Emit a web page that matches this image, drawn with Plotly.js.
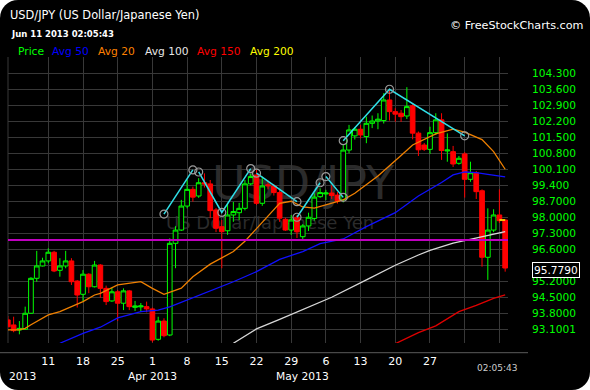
<!DOCTYPE html>
<html><head><meta charset="utf-8">
<script src="https://cdn.plot.ly/plotly-3.0.1.min.js"></script>
<style>
html,body{margin:0;padding:0;background:#fff;}
#wrap{position:relative;width:590px;height:390px;background:#000;border-radius:18px;overflow:hidden;}
.wm{position:absolute;color:#2b2b2b;font-family:"DejaVu Sans";white-space:nowrap;line-height:1;}
#chart{position:absolute;left:0;top:0;width:590px;height:390px;}
</style></head><body>
<div id="wrap">
<div class="wm" style="left:212px;top:160px;font-size:46px;">USD/JPY</div>
<div class="wm" style="left:166px;top:214px;font-size:18px;">US Dollar/Japanese Yen</div>
<div id="chart"></div>
</div>
<script>
// ---- trading days (Sun..Fri sessions) ----
const dates = [
'2013-03-03','2013-03-04','2013-03-05','2013-03-06','2013-03-07','2013-03-08',
'2013-03-10','2013-03-11','2013-03-12','2013-03-13','2013-03-14','2013-03-15',
'2013-03-17','2013-03-18','2013-03-19','2013-03-20','2013-03-21','2013-03-22',
'2013-03-24','2013-03-25','2013-03-26','2013-03-27','2013-03-28','2013-03-29',
'2013-03-31','2013-04-01','2013-04-02','2013-04-03','2013-04-04','2013-04-05',
'2013-04-07','2013-04-08','2013-04-09','2013-04-10','2013-04-11','2013-04-12',
'2013-04-14','2013-04-15','2013-04-16','2013-04-17','2013-04-18','2013-04-19',
'2013-04-21','2013-04-22','2013-04-23','2013-04-24','2013-04-25','2013-04-26',
'2013-04-28','2013-04-29','2013-04-30','2013-05-01','2013-05-02','2013-05-03',
'2013-05-05','2013-05-06','2013-05-07','2013-05-08','2013-05-09','2013-05-10',
'2013-05-12','2013-05-13','2013-05-14','2013-05-15','2013-05-16','2013-05-17',
'2013-05-19','2013-05-20','2013-05-21','2013-05-22','2013-05-23','2013-05-24',
'2013-05-26','2013-05-27','2013-05-28','2013-05-29','2013-05-30','2013-05-31',
'2013-06-02','2013-06-03','2013-06-04','2013-06-05','2013-06-06','2013-06-07',
'2013-06-09','2013-06-10','2013-06-11'];

const open = [
93.51,93.29,93.07,93.10,93.80,95.33,
95.87,96.09,96.47,95.68,95.87,96.09,
95.21,94.63,95.51,94.96,95.91,94.89,
94.34,94.74,94.24,94.78,94.06,94.08,
94.09,93.99,92.66,93.46,92.85,96.86,
97.44,98.49,99.22,98.93,99.51,99.46,
98.32,97.59,97.41,98.10,98.20,98.39,
99.46,99.85,98.61,99.42,99.37,99.08,
97.91,97.44,98.00,97.15,97.62,97.95,
98.90,99.02,99.06,98.97,98.76,100.94,
101.56,101.85,101.53,102.11,102.21,102.23,
103.13,102.62,102.55,102.43,102.88,101.68,
101.16,100.97,101.70,102.26,100.90,100.87,
100.36,100.77,99.66,99.95,99.16,96.25,
97.44,98.10,97.88];
const high = [
93.68,93.65,93.46,94.09,95.38,96.53,
96.23,96.64,96.53,96.21,96.53,96.21,
95.25,95.69,95.55,96.09,95.95,95.01,
94.92,94.82,94.89,94.82,94.34,94.25,
94.31,94.05,93.65,93.58,97.08,97.61,
98.76,99.63,99.34,99.71,99.92,99.63,
98.40,97.88,98.63,98.67,98.63,99.63,
99.90,100.07,99.78,99.60,99.45,99.20,
97.98,98.10,98.10,97.70,98.20,99.05,
99.27,99.20,99.40,99.10,101.16,102.04,
101.95,102.04,102.40,102.45,102.55,103.43,
103.62,102.77,102.69,103.69,102.95,101.75,
101.25,101.96,102.55,102.55,101.67,101.12,
100.68,100.85,100.43,100.02,99.22,98.39,
98.35,99.22,97.90];
const low = [
93.18,92.97,92.88,93.08,93.78,95.18,
95.85,95.99,95.60,95.40,95.77,95.04,
94.05,94.31,94.68,94.93,94.48,94.16,
94.30,93.46,93.94,93.94,93.90,93.87,
93.84,92.53,92.60,92.75,92.80,95.77,
97.40,98.39,98.68,98.85,99.30,97.96,
97.35,95.77,97.23,97.80,97.88,98.30,
99.40,98.54,98.50,99.22,98.95,97.80,
97.40,97.23,97.09,97.05,97.40,97.85,
98.85,98.75,98.80,98.60,98.65,100.80,
101.40,101.45,101.24,101.90,101.85,102.10,
102.23,102.18,102.17,102.30,101.41,100.68,
100.90,100.77,101.60,100.51,100.43,100.20,
100.30,98.86,99.55,98.80,95.84,95.26,
97.35,97.75,95.62];
const close = [
93.21,93.04,93.14,93.80,95.33,95.87,
96.09,96.47,95.65,95.87,96.09,95.18,
94.60,95.51,94.96,95.91,94.89,94.31,
94.74,94.24,94.78,94.09,94.12,94.12,
93.99,92.63,93.46,92.82,96.86,97.44,
98.49,99.22,98.88,99.51,99.45,98.29,
97.52,97.37,98.10,98.25,98.39,99.46,
99.78,98.61,99.37,99.38,99.08,97.96,
97.44,97.88,97.36,97.62,98.00,98.88,
99.08,99.06,98.95,98.70,100.94,101.82,
101.85,101.60,102.11,102.21,102.29,103.13,
102.62,102.51,102.40,102.84,101.68,100.95,
100.97,101.70,102.26,100.92,100.94,100.33,
100.58,99.66,99.95,99.12,96.25,97.44,
98.10,97.85,95.779];

// ---- moving averages ----
const ma20Dates = ['2013-03-03','2013-03-05','2013-03-06','2013-03-07','2013-03-11','2013-03-13','2013-03-15','2013-03-18','2013-03-20','2013-03-21','2013-03-25','2013-03-29','2013-04-01','2013-04-03','2013-04-07','2013-04-09','2013-04-12','2013-04-17','2013-04-19','2013-04-24','2013-04-26','2013-04-29','2013-05-01','2013-05-03','2013-05-07','2013-05-09','2013-05-12','2013-05-16','2013-05-21','2013-05-23','2013-05-28','2013-05-31','2013-06-03','2013-06-06','2013-06-09','2013-06-11'];
const ma20 = [93.07,93.08,93.14,93.30,93.73,93.87,94.09,94.31,94.60,94.67,95.04,95.18,94.89,94.63,94.90,95.40,95.95,96.50,96.95,98.05,98.61,98.70,98.45,98.40,98.60,98.76,99.05,99.80,100.70,101.16,101.65,101.85,101.72,101.40,100.87,100.10];
const ma50Dates = ['2013-03-13','2013-03-18','2013-03-21','2013-03-25','2013-03-29','2013-04-02','2013-04-04','2013-04-08','2013-04-12','2013-04-17','2013-04-22','2013-04-26','2013-05-01','2013-05-05','2013-05-09','2013-05-14','2013-05-20','2013-05-24','2013-05-29','2013-05-31','2013-06-03','2013-06-05','2013-06-07','2013-06-11'];
const ma50 = [92.49,92.92,93.19,93.60,93.87,93.94,94.08,94.38,94.80,95.18,95.62,96.16,96.50,96.85,97.05,97.59,98.20,98.93,99.52,99.85,99.98,99.95,99.88,99.77];
const ma100Dates = ['2013-04-17','2013-04-22','2013-04-26','2013-05-01','2013-05-07','2013-05-14','2013-05-20','2013-05-24','2013-05-27','2013-05-31','2013-06-04','2013-06-07','2013-06-11'];
const ma100 = [92.49,93.12,93.53,93.95,94.50,95.26,95.90,96.35,96.55,96.87,97.03,97.22,97.37];
const ma150Dates = ['2013-05-20','2013-05-24','2013-05-28','2013-06-02','2013-06-05','2013-06-09','2013-06-11'];
const ma150 = [92.47,92.95,93.25,93.87,94.15,94.45,94.60];

// ---- hand-drawn trend lines (zigzag) ----
const zzDates = ['2013-04-03','2013-04-09','2013-04-09','2013-04-10','2013-04-15','2013-04-21','2013-04-21','2013-04-22','2013-04-30','2013-04-30','2013-04-30','2013-05-05','2013-05-05','2013-05-06','2013-05-09','2013-05-09','2013-05-09','2013-05-19','2013-06-03'];
const zzPrices = [98.14,100.07,null,99.98,98.21,100.13,null,99.93,98.68,null,98.00,99.51,null,99.78,98.87,null,101.35,103.60,101.56];
const markDates = ['2013-06-10','2013-06-11'];
const markLevel = [97.88,97.88];
const supportLevel = 97.0;

// ---- ticks / labels ----
const xTickDates = ['2013-03-11','2013-03-18','2013-03-25','2013-04-01','2013-04-08','2013-04-15','2013-04-22','2013-04-29','2013-05-06','2013-05-13','2013-05-20','2013-05-27','2013-06-03','2013-06-10'];
const xTickText = ['11','18','25','1','8','15','22','29','6','13','20','27','',''];
const monthDates = ['2013-04-01','2013-05-01'];
const monthText = ['Apr 2013','May 2013'];
const yTickVals = [93.1,93.8,94.5,95.2,95.9,96.6,97.3,98.0,98.7,99.4,100.1,100.8,101.5,102.2,102.9,103.6,104.3];
const yTickText = ['93.1001','93.8000','94.5000','95.2000','','96.6000','97.3000','98.0000','98.7000','99.400','100.100','100.800','101.500','102.200','102.900','103.600','104.300'];
const legendNames = ['Price','Avg 50','Avg 20','Avg 100','Avg 150','Avg 200'];
const legendColors = ['#00ff00','#0000ff','#ff8000','#e6e6e6','#ff0000','#ffff00'];

// ---- layout geometry (pixels) ----
const W = 590, H = 390, L = 8, R = 508, T = 57, B = 343;
const px = x => (x - L) / (R - L);
const py = y => (B - y) / (B - T);
const FONT = 'DejaVu Sans';

const traces = [
  {type:'candlestick', x:dates, open:open, high:high, low:low, close:close,
   increasing:{line:{color:'#00ff00',width:1}, fillcolor:'#000000'},
   decreasing:{line:{color:'#ff0000',width:1}, fillcolor:'#ff0000'},
   whiskerwidth:0, hoverinfo:'skip', showlegend:false},
  {type:'scatter', mode:'lines', x:ma150Dates, y:ma150, line:{color:'#e00000',width:1.3}, showlegend:false},
  {type:'scatter', mode:'lines', x:ma100Dates, y:ma100, line:{color:'#d8d8d8',width:1.3}, showlegend:false},
  {type:'scatter', mode:'lines', x:ma50Dates, y:ma50, line:{color:'#1010ff',width:1.3}, showlegend:false},
  {type:'scatter', mode:'lines', x:ma20Dates, y:ma20, line:{color:'#f08000',width:1.3}, showlegend:false},
  {type:'scatter', mode:'lines+markers', x:zzDates, y:zzPrices, connectgaps:false,
   line:{color:'#30e0e8',width:1.5},
   marker:{symbol:'circle-open', size:8, color:'#9a9a9a', line:{width:1.2}}, showlegend:false},
  {type:'scatter', mode:'lines', x:markDates, y:markLevel, line:{color:'#ffff00',width:1.5}, showlegend:false}
];

const annotations = [
  {xref:'paper', yref:'paper', x:px(8), y:py(15), xanchor:'left', yanchor:'middle', showarrow:false,
   text:'USD/JPY (US Dollar/Japanese Yen)', font:{family:FONT,size:11.4,color:'#ffffff'}},
  {xref:'paper', yref:'paper', x:px(9), y:py(34), xanchor:'left', yanchor:'middle', showarrow:false,
   text:'<b>Jun 11 2013 02:05:43</b>', font:{family:FONT,size:8.5,color:'#ffffff'}},
  {xref:'paper', yref:'paper', x:px(448), y:py(25), xanchor:'left', yanchor:'middle', showarrow:false,
   text:'© FreeStockCharts.com', font:{family:FONT,size:11.2,color:'#ffffff'}},
  {xref:'paper', yref:'paper', x:px(7), y:py(376), xanchor:'left', yanchor:'middle', showarrow:false,
   text:'2013', font:{family:FONT,size:10.7,color:'#ffffff'}},
  {xref:'paper', yref:'paper', x:px(497), y:py(368), xanchor:'center', yanchor:'middle', showarrow:false,
   text:'02:05:43', font:{family:FONT,size:9,color:'#cccccc'}},
  {xref:'paper', yref:'y', x:px(531.5), y:close[close.length-1], xanchor:'left', yanchor:'middle', yshift:-2, showarrow:false,
   text:close[close.length-1].toFixed(4), font:{family:FONT,size:10.6,color:'#ffffff'},
   bgcolor:'#000000', bordercolor:'#ffffff', borderwidth:1, borderpad:1}
];
const legendX = [16, 50, 96, 142.7, 195, 248.3];
legendNames.forEach((n,i) => annotations.push({xref:'paper', yref:'paper', x:px(legendX[i]), y:py(52), xanchor:'left', yanchor:'middle', showarrow:false,
  text:n, font:{family:FONT,size:10.7,color:legendColors[i]}}));
monthDates.forEach((d,i) => annotations.push({xref:'x', yref:'paper', x:d, y:py(376), xanchor:'center', yanchor:'middle', showarrow:false,
  text:monthText[i], font:{family:FONT,size:10.7,color:'#ffffff'}}));

const shapes = [
  {type:'line', xref:'paper', yref:'y', x0:0, x1:1, y0:supportLevel, y1:supportLevel, line:{color:'#c000c0', width:2}},
  {type:'line', xref:'paper', yref:'paper', x0:0, x1:0, y0:0, y1:1, line:{color:'#383838', width:1}, layer:'below'},
  {type:'line', xref:'paper', yref:'paper', x0:px(0), x1:px(528), y0:py(352.7), y1:py(352.7), line:{color:'#5a5a5a', width:1}}
];

const layout = {
  width:W, height:H, margin:{l:L, r:W-R, t:T, b:H-B, pad:0},
  paper_bgcolor:'rgba(0,0,0,0)', plot_bgcolor:'rgba(0,0,0,0)',
  showlegend:false, boxgap:0.1, boxgroupgap:0.1, hovermode:false,
  xaxis:{type:'category', categoryorder:'array', categoryarray:dates, range:[0.03, 86.49],
    rangeslider:{visible:false}, tickmode:'array', tickvals:xTickDates, ticktext:xTickText,
    ticks:'outside', ticklen:8, tickcolor:'rgba(0,0,0,0)',
    tickfont:{family:FONT, size:11, color:'#ffffff'},
    showgrid:true, gridcolor:'#383838', gridwidth:1, zeroline:false, showline:false, fixedrange:true},
  yaxis:{side:'right', range:[92.50, 105.01], tickmode:'array', tickvals:yTickVals, ticktext:yTickText,
    ticks:'outside', ticklen:21, tickcolor:'rgba(0,0,0,0)',
    tickfont:{family:FONT, size:10.6, color:'#00ff00'},
    showgrid:true, gridcolor:'#383838', gridwidth:1, zeroline:false, showline:false, fixedrange:true},
  annotations:annotations, shapes:shapes
};

Plotly.newPlot('chart', traces, layout, {staticPlot:true, displayModeBar:false});
</script>
</body></html>
